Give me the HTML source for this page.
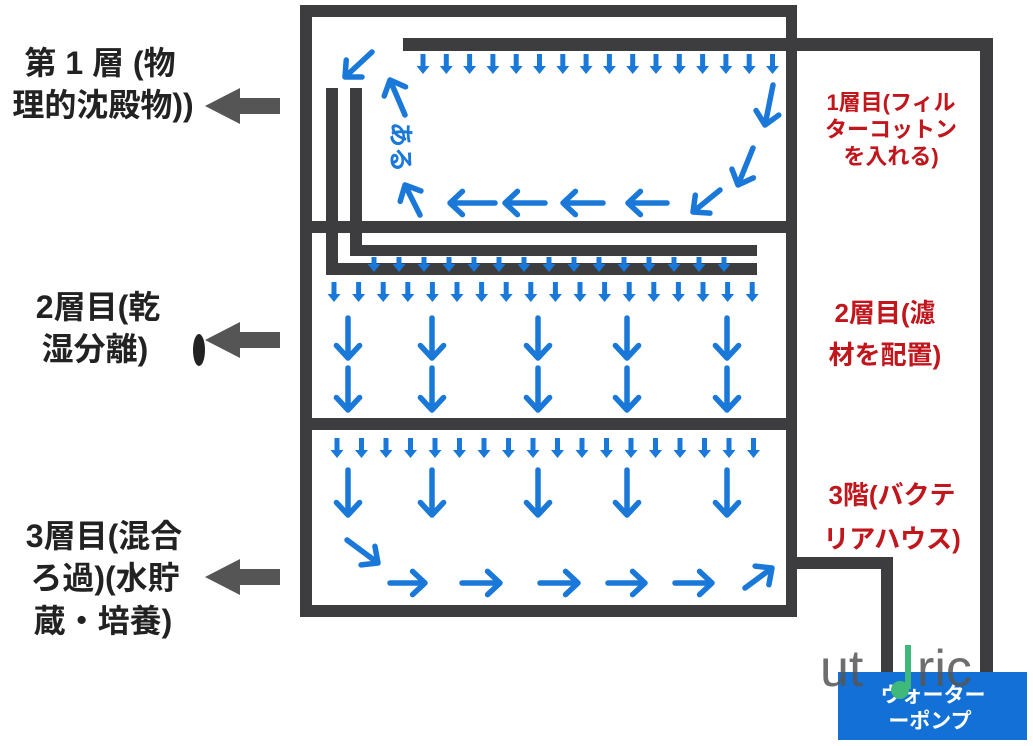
<!DOCTYPE html>
<html><head><meta charset="utf-8"><style>
html,body{margin:0;padding:0;background:#fff;}
body{width:1033px;height:746px;position:relative;overflow:hidden;font-family:"Liberation Sans","Noto Sans CJK JP",sans-serif;}
.l{position:absolute;font-weight:bold;color:#222;font-size:32px;line-height:42px;text-align:center;white-space:nowrap;}
.r{position:absolute;font-weight:bold;color:#c0161c;text-align:center;white-space:nowrap;}
svg{position:absolute;left:0;top:0;}
</style></head><body>
<svg id="s" width="1033" height="746" xmlns="http://www.w3.org/2000/svg">
<g fill="#3d3c3e">
<rect x="300" y="5" width="497" height="12"/>
<rect x="300" y="5" width="12" height="612"/>
<rect x="786" y="5" width="11" height="612"/>
<rect x="300" y="221" width="497" height="12"/>
<rect x="300" y="418" width="497" height="12"/>
<rect x="300" y="605" width="497" height="12"/>
<rect x="403" y="38" width="590" height="13"/>
<rect x="980" y="38" width="13" height="634"/>
<rect x="786" y="557" width="107" height="12"/>
<rect x="881" y="557" width="12" height="115"/>
<rect x="326" y="88" width="12" height="187"/>
<rect x="326" y="263" width="431" height="12"/>
<rect x="350" y="88" width="12" height="168"/>
<rect x="350" y="245" width="407" height="11"/>
<path d="M205 106 L240 88 L240 98 L280 98 L280 114 L240 114 L240 124 Z" fill="#555"/>
<path d="M205 340 L240 322 L240 332 L280 332 L280 348 L240 348 L240 358 Z" fill="#555"/>
<path d="M205 577 L240 559 L240 569 L280 569 L280 585 L240 585 L240 595 Z" fill="#555"/>
<ellipse cx="199" cy="350" rx="6" ry="16" fill="#222"/>
</g>
<g id="a" stroke="#1a78d8" stroke-width="5.5" fill="none" stroke-linecap="round" stroke-linejoin="round"></g>
<g id="d" fill="#1a78d8"></g>
<rect x="838" y="672" width="189" height="68" fill="#1270d6"/>
<text x="933" y="702" fill="#fff" font-size="21" font-weight="bold" text-anchor="middle" font-family="Liberation Sans,Noto Sans CJK JP,sans-serif">ウォーター</text>
<text x="930" y="728" fill="#fff" font-size="21" font-weight="bold" text-anchor="middle" font-family="Liberation Sans,Noto Sans CJK JP,sans-serif">ーポンプ</text>
<text x="820" y="686" fill="#555" font-size="52" font-family="Liberation Sans,sans-serif" opacity="0.85">ut</text>
<text x="917" y="686" fill="#555" font-size="52" font-family="Liberation Sans,sans-serif" opacity="0.85">ric</text>
<rect x="905" y="645" width="6" height="44" fill="#3fb97a"/>
<circle cx="900" cy="690" r="9" fill="#3fb97a"/>
<text x="392" y="122" fill="#1a78d8" font-size="25" font-weight="bold" transform="rotate(90 392 122)" font-family="Liberation Sans,Noto Sans CJK JP,sans-serif">ある</text>
</svg>
<div class="l" style="left:0px;top:42px;width:200px;">第 1 層 (物</div>
<div class="l" style="left:0px;top:84px;width:206px;">理的沈殿物))</div>
<div class="l" style="left:0px;top:286px;width:196px;">2層目(乾</div>
<div class="l" style="left:10px;top:328px;width:170px;">湿分離)</div>
<div class="l" style="left:0px;top:515px;width:208px;">3層目(混合</div>
<div class="l" style="left:0px;top:557px;width:210px;">ろ過)(水貯</div>
<div class="l" style="left:0px;top:600px;width:206px;">蔵・培養)</div>
<div class="r" style="left:806px;top:89px;width:170px;font-size:22px;line-height:27px;">1層目(フィル<br>ターコットン<br>を入れる)</div>
<div class="r" style="left:800px;top:292px;width:170px;font-size:26px;line-height:42px;">2層目(濾<br>材を配置)</div>
<div class="r" style="left:802px;top:473px;width:180px;font-size:26px;line-height:44px;">3階(バクテ<br>リアハウス)</div>
<script>
var a=document.getElementById('a'),d=document.getElementById('d'),ns='http://www.w3.org/2000/svg';
function arr(x1,y1,x2,y2,h){h=h||17;var p=document.createElementNS(ns,'path');var an=Math.atan2(y2-y1,x2-x1);
var s=0.75;var ax=x2-h*Math.cos(an-s),ay=y2-h*Math.sin(an-s),bx=x2-h*Math.cos(an+s),by=y2-h*Math.sin(an+s);
p.setAttribute('d','M'+x1+' '+y1+'L'+x2+' '+y2+'M'+ax+' '+ay+'L'+x2+' '+y2+'L'+bx+' '+by);a.appendChild(p);}
function sd(x,y,h){var p=document.createElementNS(ns,'path');
p.setAttribute('d','M'+(x-2.5)+' '+y+'h5v'+(h-8)+'h4l-6.5 8l-6.5-8h4z');d.appendChild(p);}
var i;
for(i=0;i<16;i++)sd(423+i*23.3,54,20);
for(i=0;i<15;i++)sd(374+i*25,257,15);
for(i=0;i<18;i++)sd(334+i*24.6,282,20);
for(i=0;i<18;i++)sd(337+i*24.5,438,20);
arr(372,52,345,77);arr(405,115,390,80);arr(420,215,405,185);
arr(773,85,765,125);arr(753,148,738,185);arr(720,190,693,212);
[[495,450],[545,505],[603,563],[667,628]].forEach(function(v){arr(v[0],203,v[1],203);});
[348,432,538,627,727].forEach(function(x){arr(x,318,x,358);arr(x,368,x,410);arr(x,470,x,515);});
arr(347,540,378,563);
[[390,425],[462,500],[540,578],[608,645],[675,712]].forEach(function(v){arr(v[0],583,v[1],583);});
arr(745,588,772,568);
</script>
</body></html>
